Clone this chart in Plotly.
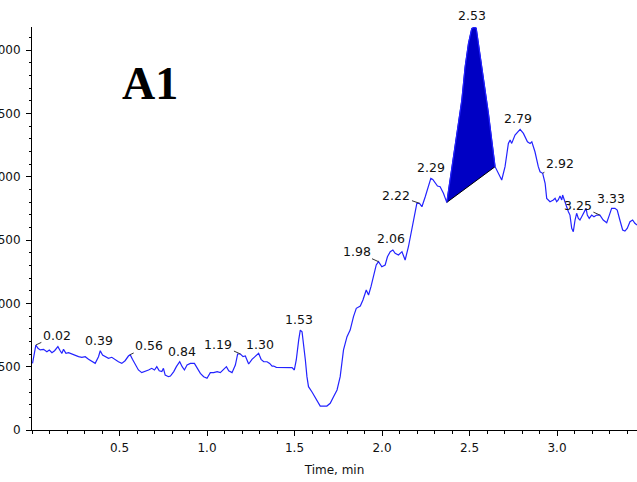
import plotly.graph_objects as go

# ---- data ----
time_min = [0.003,0.013,0.022,0.034,0.047,0.066,0.085,0.099,0.114,0.129,
            0.148,0.161,0.171,0.180,0.194,0.209,0.228,0.247,0.266,0.285,
            0.304,0.323,0.342,0.361,0.380,0.390,0.403,0.418,0.437,0.456,
            0.475,0.494,0.513,0.532,0.551,0.561,0.574,0.590,0.608,0.627,
            0.647,0.666,0.684,0.700,0.713,0.727,0.742,0.751,0.761,0.780,
            0.791,0.810,0.825,0.844,0.858,0.871,0.886,0.905,0.928,0.943,
            0.962,0.981,1.000,1.019,1.038,1.058,1.076,1.095,1.111,1.124,
            1.143,1.162,1.175,1.191,1.206,1.219,1.238,1.257,1.276,1.295,
            1.309,1.324,1.343,1.358,1.372,1.381,1.396,1.419,1.457,1.486,
            1.499,1.510,1.524,1.533,1.543,1.552,1.562,1.571,1.580,1.600,
            1.619,1.633,1.647,1.685,1.704,1.723,1.743,1.761,1.771,1.780,
            1.800,1.818,1.837,1.853,1.876,1.891,1.910,1.923,1.937,1.952,
            1.967,1.980,1.999,2.018,2.031,2.047,2.062,2.075,2.094,2.114,
            2.132,2.151,2.171,2.190,2.199,2.214,2.228,2.247,2.265,2.279,
            2.290,2.304,2.317,2.332,2.351,2.370,
            2.399,2.428,2.456,2.475,2.494,2.513,2.527,2.538,2.551,2.570,
            2.589,2.608,2.627,2.646,
            2.684,2.703,2.722,2.732,2.741,2.760,2.789,2.808,2.831,2.846,
            2.856,2.874,2.893,2.903,2.918,2.932,2.941,2.960,2.979,2.989,
            2.998,3.007,3.017,3.027,3.032,3.040,3.055,3.065,3.074,3.084,
            3.093,3.103,3.112,3.122,3.131,3.141,3.150,3.166,3.173,3.184,
            3.198,3.211,3.227,3.245,3.264,3.284,3.299,3.312,3.331,3.344,
            3.359,3.375,3.388,3.401,3.417,3.432,3.445,3.457]

intensity = [526,618,671,645,632,637,618,632,611,626,
             658,626,605,637,605,611,600,592,579,574,
             579,558,539,526,579,626,592,579,566,574,
             553,539,526,547,584,595,558,513,474,453,
             461,474,487,474,500,468,461,487,434,421,
             426,461,500,539,500,474,513,526,526,487,
             447,421,408,453,453,461,453,479,500,468,
             453,513,600,600,579,584,521,558,579,605,
             558,539,539,526,505,505,495,495,495,492,
             474,553,711,789,776,684,553,421,342,300,
             255,215,189,189,211,263,316,421,526,632,
             737,789,895,961,979,1026,1105,1066,1132,1211,
             1303,1329,1289,1303,1368,1408,1421,1395,1382,1408,
             1342,1447,1579,1724,1790,1790,1763,1842,1921,1987,
             1979,1948,1926,1921,1869,1797,
             2079,2342,2605,2868,3053,3171,3178,3174,3053,2868,
             2710,2500,2289,2079,
             1974,2079,2263,2289,2263,2329,2374,2342,2276,2263,
             2276,2197,2079,2039,2027,1948,1829,1802,1816,1829,
             1802,1816,1847,1816,1855,1816,1763,1724,1697,1592,
             1566,1658,1711,1671,1658,1684,1711,1750,1697,1671,
             1697,1684,1697,1697,1658,1637,1697,1750,1750,1737,
             1658,1579,1571,1592,1645,1658,1632,1618]

assert len(time_min) == len(intensity)

# integrated peak limits (min)
peak_start = 2.370
peak_end = 2.646

# apex labels (retention times)
apex_times = [0.02, 0.39, 0.56, 0.84, 1.19, 1.30, 1.53, 1.98, 2.06, 2.22,
              2.29, 2.53, 2.79, 2.92, 3.25, 3.33]

x_ticks = [0.5, 1.0, 1.5, 2.0, 2.5, 3.0]
y_ticks = [0, 500, 1000, 1500, 2000, 2500, 3000]

# ---- styling (pixel offsets of labels: dx, dy, leader line) ----
label_style = {
    0.02: (21, -10, True), 0.39: (-1, -10, False), 0.56: (19, -9, True),
    0.84: (2, -10, False), 1.19: (-22, -10, True), 1.30: (1, -9, False),
    1.53: (-1, -11, False), 1.98: (-22, -10, True), 2.06: (-2, -12, False),
    2.22: (-23, -8, True), 2.29: (-2, -12, False), 2.53: (-2, -12, False),
    2.79: (-2, -11, False), 2.92: (17, -10, True), 3.25: (-22, -10, True),
    3.33: (-4, -10, False),
}

LINE_BLUE = "#2323ff"
FILL_BLUE = "#0000c4"
FONT = "DejaVu Sans, Arial, sans-serif"

fig = go.Figure()

# filled integrated peak
pk_x = [t for t in time_min if peak_start <= t <= peak_end]
pk_y = [v for t, v in zip(time_min, intensity) if peak_start <= t <= peak_end]
fig.add_trace(go.Scatter(x=pk_x, y=pk_y, mode="lines", fill="toself",
                         fillcolor=FILL_BLUE, line=dict(color=FILL_BLUE, width=1),
                         hoverinfo="skip", showlegend=False))
# baseline of the integrated peak
fig.add_trace(go.Scatter(x=[pk_x[0], pk_x[-1]], y=[pk_y[0], pk_y[-1]], mode="lines",
                         line=dict(color="black", width=1), hoverinfo="skip",
                         showlegend=False))
# chromatogram trace
fig.add_trace(go.Scatter(x=time_min, y=intensity, mode="lines",
                         line=dict(color=LINE_BLUE, width=1.2), showlegend=False))

LABEL_FONT = dict(family=FONT, size=12.5, color="#111")
annotations = []
for t in apex_times:
    i = min(range(len(time_min)), key=lambda k: abs(time_min[k] - t))
    dx, dy, leader = label_style[t]
    if leader:
        annotations.append(dict(x=time_min[i], y=intensity[i], xref="x", yref="y",
                                text=f"{t:.2f}", showarrow=True, arrowhead=0,
                                arrowwidth=1, arrowcolor="#333", ax=dx, ay=dy,
                                standoff=0, font=LABEL_FONT))
    else:
        annotations.append(dict(x=time_min[i], y=intensity[i], xref="x", yref="y",
                                text=f"{t:.2f}", showarrow=False, xshift=dx, yshift=-dy,
                                font=LABEL_FONT))

annotations.append(dict(x=0.195, y=0.8586, xref="paper", yref="paper", text="<b>A1</b>",
                        xanchor="center", yanchor="middle", showarrow=False,
                        font=dict(family="Times New Roman, Liberation Serif, serif",
                                  size=46, color="black")))

fig.update_layout(
    width=637, height=482,
    margin=dict(l=32, r=0, t=27, b=52),
    plot_bgcolor="white", paper_bgcolor="white",
    font=dict(family=FONT, size=12, color="#111"),
    annotations=annotations,
    showlegend=False,
)
fig.update_xaxes(
    range=[0, 3.457], showgrid=False, zeroline=False, automargin=False,
    showline=True, linecolor="black", linewidth=1,
    tickmode="array", tickvals=x_ticks, tickformat=".1f",
    ticks="outside", ticklen=5, tickcolor="black", ticklabelstandoff=2,
    minor=dict(tickmode="linear", tick0=0, dtick=0.1, ticks="outside",
               ticklen=3, tickcolor="black", showgrid=False),
    title=dict(text="Time, min", standoff=11, font=dict(size=12)),
    tickfont=dict(size=12),
)
fig.update_yaxes(
    range=[0, 3182], showgrid=False, zeroline=False, automargin=False,
    showline=True, linecolor="black", linewidth=1,
    tickmode="array", tickvals=y_ticks,
    ticks="outside", ticklen=5, tickcolor="black", ticklabelstandoff=3,
    minor=dict(tickmode="linear", tick0=0, dtick=100, ticks="outside",
               ticklen=2.5, tickcolor="black", showgrid=False),
    tickfont=dict(size=12),
)

fig.write_html("out.html")
